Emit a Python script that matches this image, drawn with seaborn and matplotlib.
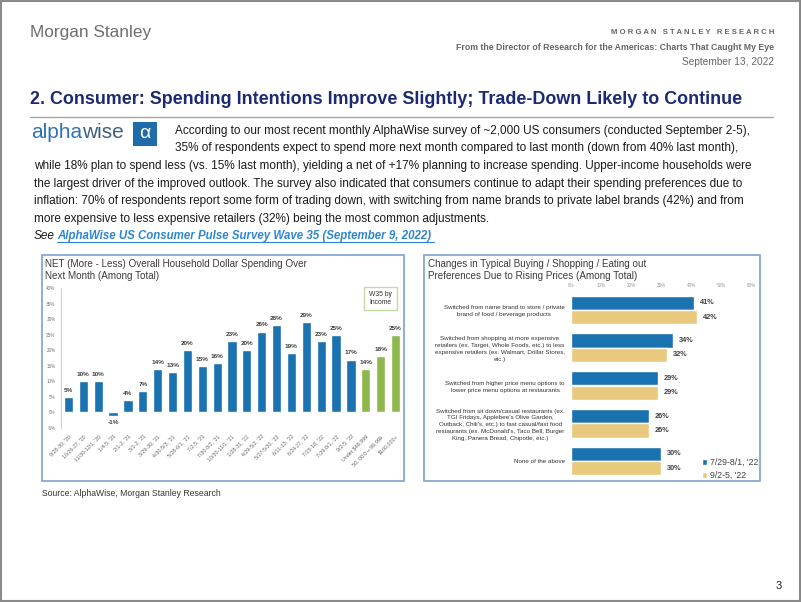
"""Morgan Stanley slide: AlphaWise consumer spending intentions and trade-down charts."""
import pandas as pd
import seaborn as sns
import matplotlib.pyplot as plt
from matplotlib.patches import Rectangle

# Left chart data: net (more - less) household spending intentions
survey_waves = ["9/28-30, '20", "10/26-27, '20", "11/30-12/1, '20", "1/4-5, '21", "2/1-2, '21",
                "3/1-2, '21", "3/29-30, '21", "4/30-5/3, '21", "5/28-6/1, '21", "7/2-5, '21",
                "7/30-8/2, '21", "10/30-11/1, '21", "1/28-31, '22", "4/29-5/2, '22", "5/27-5/30, '22",
                "6/11-13, '22", "6/24-27, '22", "7/15-18, '22", "7/29-8/1, '22", "9/2-5, '22",
                "Under $49,999", "$50,000 - $99,999", "$100,000+"]
net_spending = [5, 10, 10, -1, 4, 7, 14, 13, 20, 15, 16, 23, 20, 26, 28, 19, 29, 23, 25, 17, 14, 18, 25]
is_income_group = [False] * 20 + [True] * 3

# Right chart data: changes in buying preferences
preferences = [
    "Switched from name brand to store / private\nbrand of food / beverage products",
    "Switched from shopping at more expensive\nretailers (ex. Target, Whole Foods, etc.) to less\nexpensive retailers (ex. Walmart, Dollar Stores,\netc.)",
    "Switched from higher price menu options to\nlower price menu options at restaurants",
    "Switched from sit down/casual restaurants (ex.\nTGI Fridays, Applebee's Olive Garden,\nOutback, Chili's, etc.) to fast casual/fast food\nrestaurants (ex. McDonald's, Taco Bell, Burger\nKing, Panera Bread, Chipotle, etc.)",
    "None of the above",
]
periods = ["7/29-8/1, '22", "9/2-5, '22"]
july_values = [41, 34, 29, 26, 30]
sept_values = [42, 32, 29, 26, 30]

BLUE = "#1b72b0"
GREEN = "#8fb84c"
TAN = "#e9c97d"
NAVY = "#1c2a74"
BOX = "#86a9d2"

sns.set_style("white")
plt.rcParams["font.family"] = ["Liberation Sans", "DejaVu Sans"]

W, H = 802, 602
fig = plt.figure(figsize=(W / 100, H / 100), dpi=100)


def px(x, y):
    return x / W, 1 - y / H


def text(x, y, s, **kw):
    return fig.text(*px(x, y), s, **kw)


# slide frame
fig.patches.append(Rectangle((0.001, 0.001), 0.997, 0.997, transform=fig.transFigure,
                             fill=False, edgecolor="#8a8a8a", lw=1.5))

# header
text(30, 33, "Morgan Stanley", fontsize=12.4, color="#6e6e6e", va="center")
text(774, 32, "M O R G A N   S T A N L E Y   R E S E A R C H", fontsize=5.6, fontweight="bold",
     color="#666666", ha="right", va="center")
text(774, 48, "From the Director of Research for the Americas: Charts That Caught My Eye",
     fontsize=6.3, fontweight="bold", color="#666666", ha="right", va="center")
text(774, 62, "September 13, 2022", fontsize=7.3, color="#666666", ha="right", va="center")
text(30, 100, "2. Consumer: Spending Intentions Improve Slightly; Trade-Down Likely to Continue",
     fontsize=12.9, fontweight="bold", color=NAVY, va="center")
fig.add_artist(plt.Line2D([30 / W, 773 / W], [1 - 117 / H] * 2, color="#a6a6a6", lw=1))

# alphawise logo
renderer = fig.canvas.get_renderer()
t_alpha = text(31, 133, "alpha", fontsize=15, color="#2f72b8", va="center")
alpha_w = t_alpha.get_window_extent(renderer).width
text(31 + alpha_w, 133, "wise", fontsize=15, color="#3d5f80", va="center")
fig.patches.append(Rectangle(px(133, 146), 24 / W, 24 / H, transform=fig.transFigure,
                             facecolor="#1f6cab", edgecolor="none"))
text(145, 134, "α", fontsize=14, color="white", ha="center", va="center")

# paragraph
para = [
    (175, 131, "According to our most recent monthly AlphaWise survey of ~2,000 US consumers (conducted September 2-5),"),
    (175, 148, "35% of respondents expect to spend more next month compared to last month (down from 40% last month),"),
    (34, 166, "while 18% plan to spend less (vs. 15% last month), yielding a net of +17% planning to increase spending. Upper-income households were"),
    (34, 184, "the largest driver of the improved outlook. The survey also indicated that consumers continue to adapt their spending preferences due to"),
    (34, 201, "inflation: 70% of respondents report some form of trading down, with switching from name brands to private label brands (42%) and from"),
    (34, 219, "more expensive to less expensive retailers (32%) being the most common adjustments."),
]
for x, y, s in para:
    text(x, y, s, fontsize=8.5, color="#1a1a1a", va="center")
text(34, 236, "See", fontsize=8.5, style="italic", color="#1a1a1a", va="center")
text(57, 236, "AlphaWise US Consumer Pulse Survey Wave 35 (September 9, 2022)",
     fontsize=8.3, style="italic", fontweight="bold", color="#2e86d1", va="center")
fig.add_artist(plt.Line2D([57 / W, 434 / W], [1 - 242 / H] * 2, color="#2e86d1", lw=0.8))

# chart boxes
for x0, x1 in [(42, 404), (424, 760)]:
    fig.patches.append(Rectangle(px(x0, 481), (x1 - x0) / W, 226 / H, transform=fig.transFigure,
                                 fill=False, edgecolor=BOX, lw=1.3))

# ---- left chart ----
text(45, 270, "NET (More - Less) Overall Household Dollar Spending Over\nNext Month (Among Total)",
     fontsize=7.1, color="#3a3a3a", va="center", linespacing=1.25)
df_left = pd.DataFrame({"wave": survey_waves, "net": net_spending,
                        "group": ["income" if g else "wave" for g in is_income_group]})
ax1 = fig.add_axes([61 / W, 1 - 428 / H, 342 / W, 140 / H])
sns.barplot(data=df_left, x="wave", y="net", hue="group", palette={"wave": BLUE, "income": GREEN},
            dodge=False, width=0.62, saturation=1, legend=False, ax=ax1)
ax1.set_ylim(-5, 40)
ax1.set_xlim(-0.5, len(survey_waves) - 0.5)
ax1.set_yticks(range(-5, 41, 5))
ax1.set_yticklabels([f"{t}%" for t in range(-5, 41, 5)], fontsize=3.3, color="#777777")
ax1.set_xticks(range(len(survey_waves)))
ax1.set_xticklabels(survey_waves, rotation=45, ha="right", rotation_mode="anchor",
                    fontsize=3.8, color="#666666")
ax1.tick_params(axis="x", length=0, pad=4)
ax1.tick_params(axis="y", length=2, width=0.5, color="#bbbbbb", pad=2)
ax1.set_xlabel("")
ax1.set_ylabel("")
for side in ["top", "right", "bottom"]:
    ax1.spines[side].set_visible(False)
ax1.spines["left"].set_color("#bbbbbb")
ax1.spines["left"].set_linewidth(0.5)
for i, v in enumerate(net_spending):
    ax1.annotate(f"{v}%", (i, v), xytext=(0, 3 if v >= 0 else -3), textcoords="offset points",
                 ha="center", va="bottom" if v >= 0 else "top", fontsize=4.6,
                 fontweight="bold", color="#404040")
fig.patches.append(Rectangle(px(364, 310), 33 / W, 23 / H, transform=fig.transFigure,
                             facecolor="white", edgecolor="#c6d9a4", lw=1))
text(380.5, 298.5, "W35 by\nIncome", fontsize=4.9, color="#333333", ha="center", va="center",
     linespacing=1.3)

# ---- right chart ----
text(428, 270, "Changes in Typical Buying / Shopping / Eating out\nPreferences Due to Rising Prices (Among Total)",
     fontsize=7.1, color="#3a3a3a", va="center", linespacing=1.25)
df_right = pd.DataFrame({"preference": preferences * 2,
                         "period": [periods[0]] * 5 + [periods[1]] * 5,
                         "value": july_values + sept_values})
ax2 = fig.add_axes([571 / W, 1 - 480 / H, 180 / W, 189 / H])
sns.barplot(data=df_right, y="preference", x="value", hue="period", orient="h",
            palette=[BLUE, TAN], width=0.76, saturation=1, ax=ax2)
ax2.set_xlim(0, 60)
ax2.set_ylim(4.5, -0.5)
ax2.xaxis.tick_top()
ax2.set_xticks(range(0, 61, 10))
ax2.set_xticklabels([f"{t}%" for t in range(0, 61, 10)], fontsize=3.3, color="#999999")
ax2.tick_params(axis="x", length=0, pad=2)
ax2.tick_params(axis="y", length=0, pad=4.5)
for lab in ax2.get_yticklabels():
    lab.set_fontsize(4.5)
    lab.set_color("#333333")
    lab.set_multialignment("center")
    lab.set_linespacing(1.45)
ax2.set_xlabel("")
ax2.set_ylabel("")
sns.despine(ax=ax2, left=True, bottom=True)
for container in ax2.containers:
    ax2.bar_label(container, labels=[f"{v:.0f}%" for v in container.datavalues], padding=4,
                  fontsize=5.3, fontweight="bold", color="#404040")
handles, labels = ax2.get_legend_handles_labels()
ax2.legend(handles, labels, loc="upper left", bbox_to_anchor=px(694, 450),
           bbox_transform=fig.transFigure, frameon=False, fontsize=6.3, labelcolor="#404040",
           handlelength=0.6, handleheight=0.6, handletextpad=0.3, labelspacing=0.5)

# footer
text(42, 494, "Source: AlphaWise, Morgan Stanley Research", fontsize=6.2, color="#333333", va="center")
text(779, 586, "3", fontsize=8, color="#222222", ha="center", va="center")

fig.savefig("out.png", dpi=100)
